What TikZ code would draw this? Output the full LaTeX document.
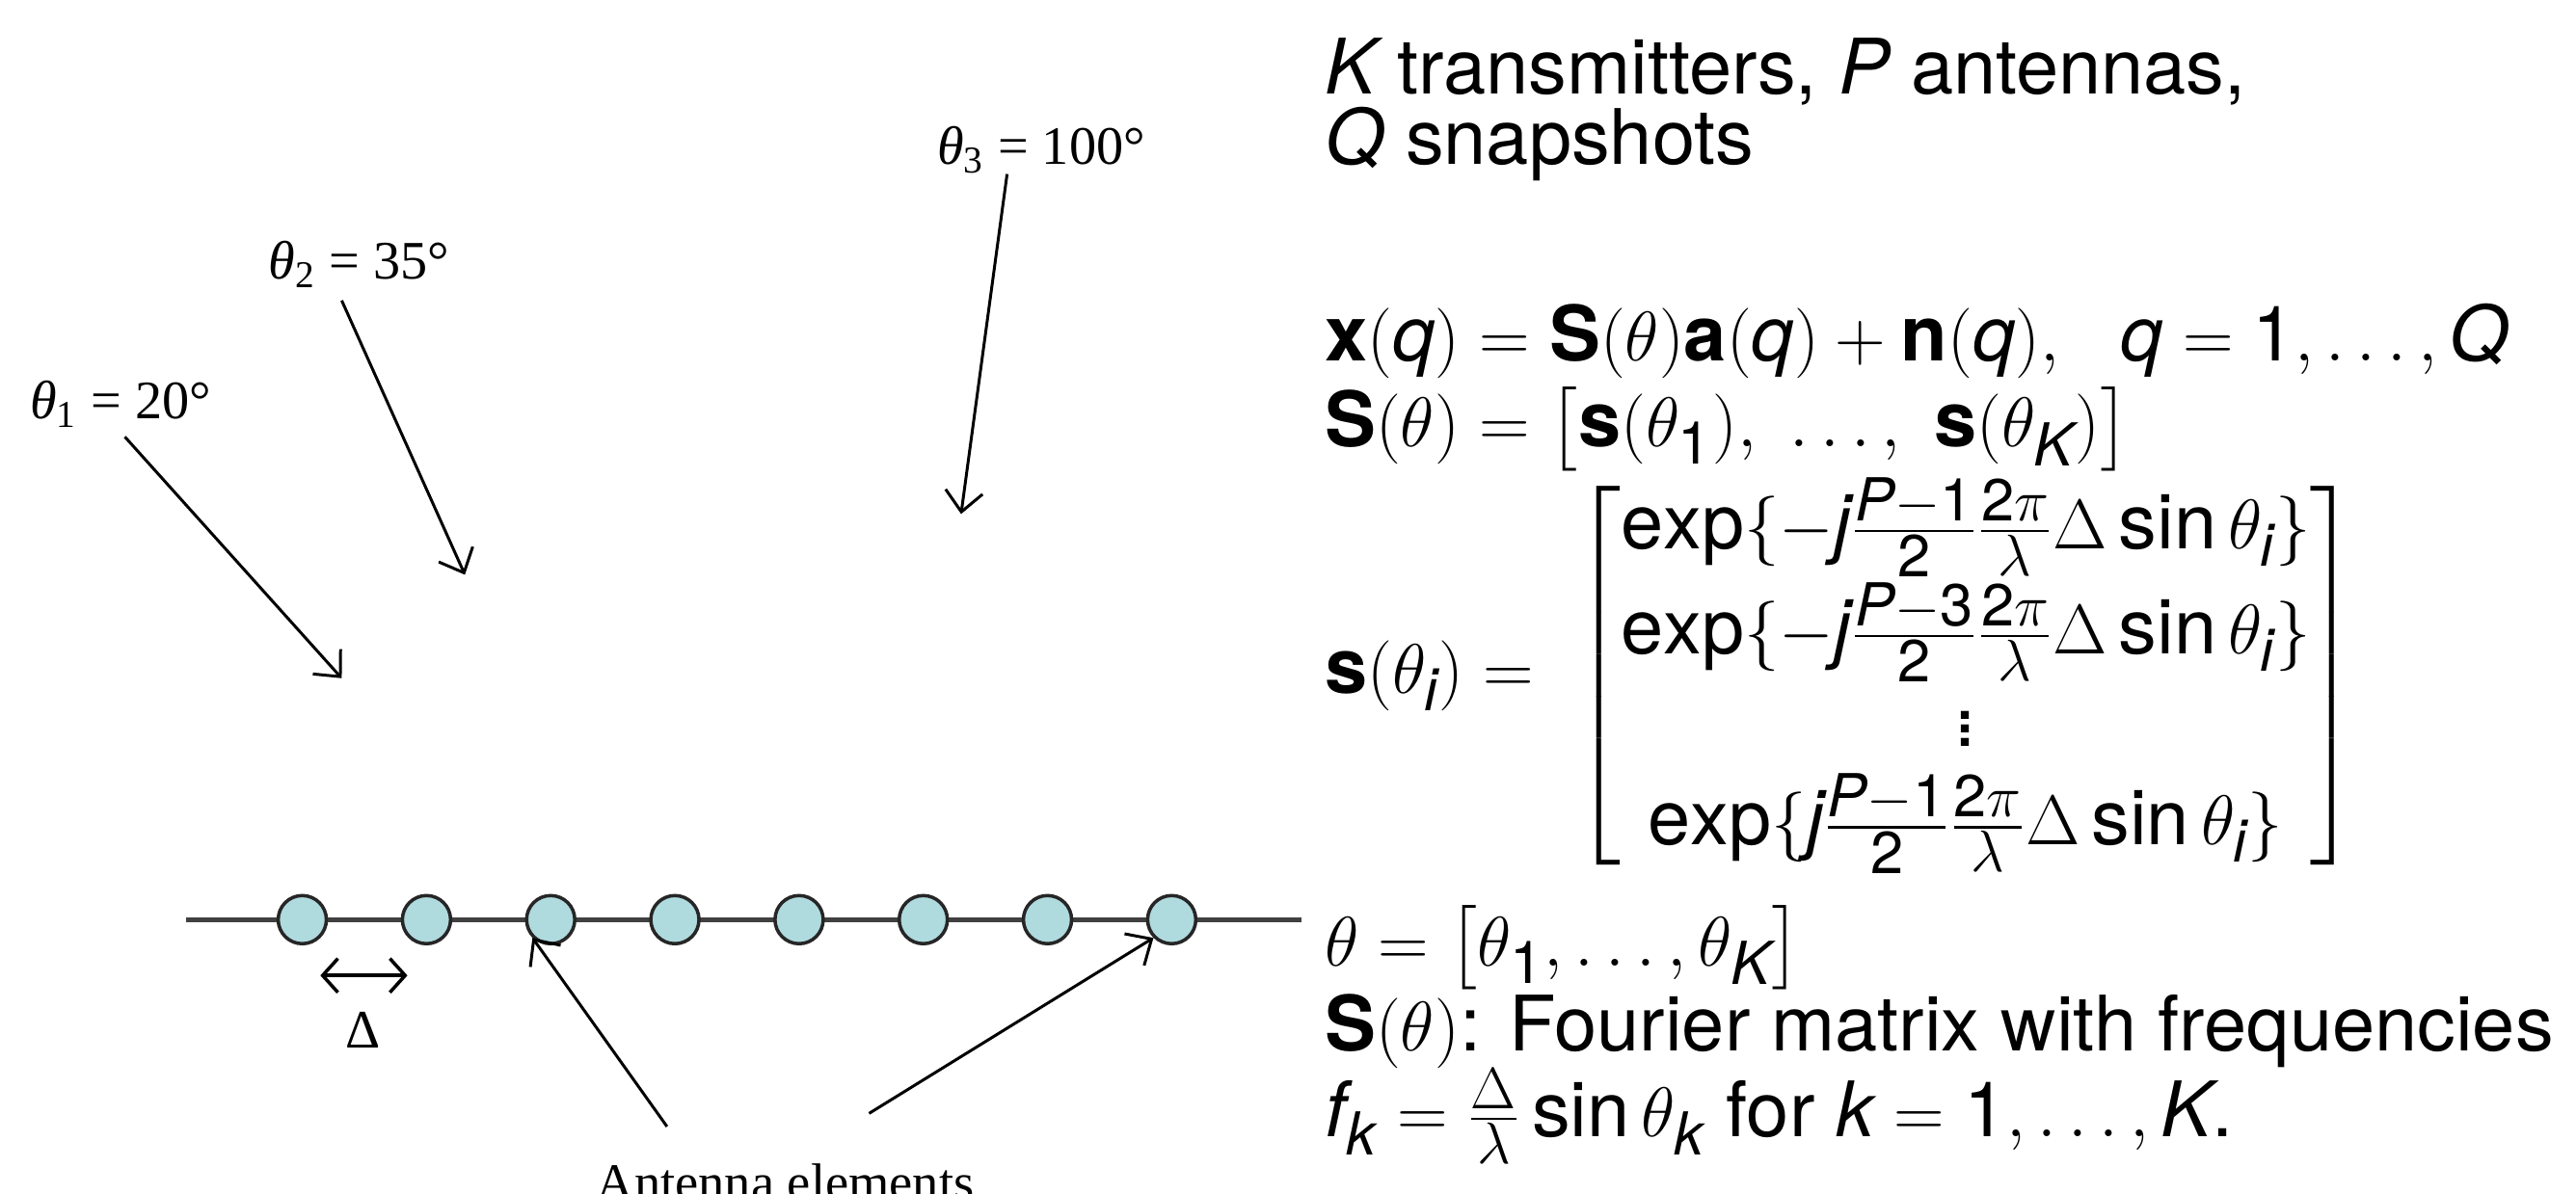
\documentclass[tikz,border=0pt]{standalone}
\usepackage{amsmath}
\usepackage{fontspec}
\setmainfont{TeX Gyre Heros}
\newfontfamily\tms{Liberation Serif}
\newfontfamily\herosx{TeX Gyre Heros}[NFSSFamily=herosx]
\DeclareSymbolFont{sfit}{TU}{herosx}{m}{it}
\DeclareSymbolFont{sfup}{TU}{herosx}{m}{n}
\def\sfletters#1{\ifx#1\relax\else\DeclareMathSymbol{#1}{\mathalpha}{sfit}{`#1}\expandafter\sfletters\fi}
\sfletters abcdefghijklmnopqrstuvwxyzABCDEFGHIJKLMNOPQRSTUVWXYZ\relax
\def\sfdigits#1{\ifx#1\relax\else\Umathcode`#1="0 \symsfup `#1\relax\expandafter\sfdigits\fi}
\DeclareMathSizes{22.6}{22.6}{17.5}{13}
\newcommand\bv[1]{\textbf{#1}}
\usetikzlibrary{arrows.meta}
\definecolor{antfill}{RGB}{175,218,222}
\tikzset{
  txt/.style={anchor=base west, inner sep=0pt, font=\fontsize{22.6}{27}\selectfont},
  lbl/.style={inner sep=0pt, font=\tms\fontsize{16}{19}\selectfont},
  ray/.style={line width=0.85pt, -{Straight Barb[length=6pt,width=11pt,line width=0.85pt]}},
  antline/.style={line width=1.5pt, draw=black!75},
  elem/.style={circle, draw=black!85, line width=1pt, fill=antfill, minimum size=0.5cm, inner sep=0pt},
}
\begin{document}
\sfdigits 0123456789\relax
\begin{tikzpicture}[x=0.01704cm, y=-0.01704cm]
\useasboundingbox (0,0) rectangle (1568,727);
% array line and elements
\coordinate (la) at (113,560);
\coordinate (lb) at (792,560);
\draw[antline] (la) -- (lb);
\foreach \i in {0,...,7} {
  \node[elem] (e\i) at ({184+75.6*\i},560) {};
}
% spacing
\coordinate (d1) at (195,594);
\coordinate (d2) at (248,594);
\draw[line width=1pt, {Straight Barb[length=4.5pt,width=10pt]}-{Straight Barb[length=4.5pt,width=10pt]}] (d1) -- (d2);
\node[lbl, anchor=base] (delta) at (221,638) {Δ};
% incoming rays
\node[lbl, anchor=base west] (t1) at (18,255) {\textit{θ}\textsubscript{1} = 20°};
\node[lbl, anchor=base west] (t2) at (163,170) {\textit{θ}\textsubscript{2} = 35°};
\node[lbl, anchor=base west] (t3) at (570,100) {\textit{θ}\textsubscript{3} = 100°};
\coordinate (r1a) at (76,266);
\coordinate (r1b) at (208,413);
\coordinate (r2a) at (208,183);
\coordinate (r2b) at (283,350);
\coordinate (r3a) at (613,106);
\coordinate (r3b) at (585,313);
\draw[ray] (r1a) -- (r1b);
\draw[ray] (r2a) -- (r2b);
\draw[ray] (r3a) -- (r3b);
% antenna elements label
\node[lbl, anchor=base, font=\tms\fontsize{15.5}{18}\selectfont] (ae) at (478,731) {Antenna elements};
\coordinate (a1) at (406,686);
\coordinate (a2) at (529,678);
\draw[ray] (a1) -- (e2.south west);
\draw[ray] (a2) -- (e7.south west);
% right text
\node[txt] (l1) at (806,57) {$K$ transmitters, $P$ antennas,};
\node[txt] (l2) at (806,100) {$Q$ snapshots};
\node[txt] (l3) at (806,220) {$\bv{x}(q) = \bv{S}(\theta)\bv{a}(q) + \bv{n}(q),\hskip0.65em q = 1,\ldots,Q$};
\node[txt] (l4) at (806,272) {$\bv{S}(\theta) = \bigl[\bv{s}(\theta_1),\ \ldots,\ \bv{s}(\theta_K)\bigr]$};
\node[txt] (l5) at (806,422) {$\bv{s}(\theta_i) = \hskip6pt\begin{bmatrix}
 \exp\{-j\tfrac{P-1}{2}\tfrac{2\pi}{\lambda}\Delta\sin\theta_i\}\\[2pt]
 \exp\{-j\tfrac{P-3}{2}\tfrac{2\pi}{\lambda}\Delta\sin\theta_i\}\\
 \vdots\\
 \exp\{j\tfrac{P-1}{2}\tfrac{2\pi}{\lambda}\Delta\sin\theta_i\}\rule[-6pt]{0pt}{1pt}
\end{bmatrix}$};
\node[txt] (l6) at (806,588) {$\theta = \bigl[\theta_1,\ldots,\theta_K\bigr]$};
\node[txt] (l7) at (806,640) {$\bv{S}(\theta)$: Fourier matrix with frequencies};
\node[txt] (l8) at (806,692) {$f_k = \tfrac{\Delta}{\lambda}\sin\theta_k$ for $k = 1,\ldots,K$.};
\end{tikzpicture}
\end{document}
